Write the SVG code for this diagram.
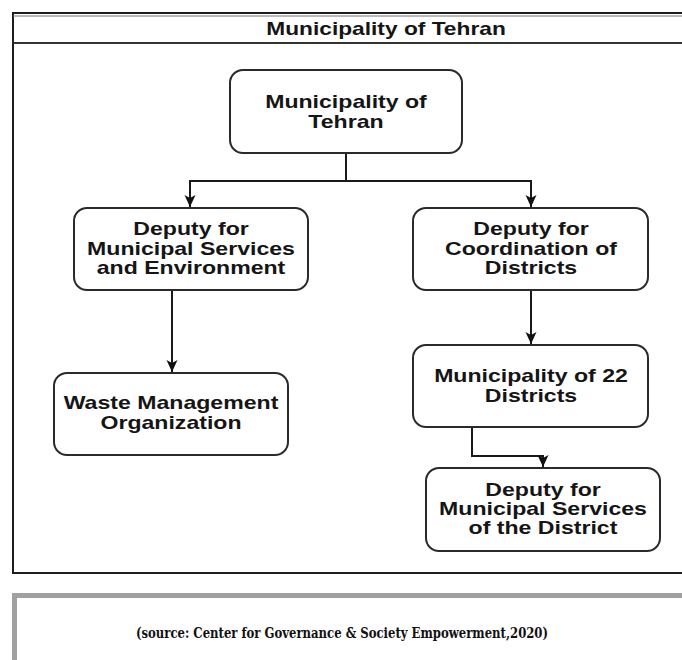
<svg xmlns="http://www.w3.org/2000/svg" width="682" height="660" viewBox="0 0 682 660">
  <defs>
    <style>
      .node rect { fill: #ffffff; stroke: #2a2a2a; stroke-width: 2; }
      .lbl { font-family: "Liberation Sans", Arial, sans-serif; font-weight: bold; font-size: 17.5px; fill: #151515; text-anchor: middle; }
      .conn path { fill: none; stroke: #1a1a1a; stroke-width: 2; }
      .cap { font-family: "DejaVu Serif Condensed", "DejaVu Serif", serif; font-weight: bold; font-size: 14.5px; fill: #111; }
    </style>
    <marker id="arr" viewBox="0 0 12 12" refX="12" refY="6" markerWidth="12" markerHeight="12" markerUnits="userSpaceOnUse" orient="auto">
      <path d="M0,0.5 L12,6 L0,11.5 L3,6 Z" fill="#111"/>
    </marker>
  </defs>
  <rect width="682" height="660" fill="#ffffff"/>

  <!-- outer frame -->
  <g id="frame">
    <rect x="13" y="13" width="700" height="560" fill="none" stroke="#1e1e1e" stroke-width="2"/>
    <line x1="13" y1="16" x2="682" y2="16" stroke="#777" stroke-width="1"/>
    <line x1="13" y1="43" x2="682" y2="43" stroke="#333" stroke-width="2"/>
    <text class="lbl" transform="translate(386,35) scale(1.3,1)" font-size="16.5">Municipality of Tehran</text>
  </g>

  <g class="conn" id="connectors">
    <path d="M346,153 V181 H190 V207" marker-end="url(#arr)"/>
    <path d="M346,181 H531 V207" marker-end="url(#arr)"/>
    <path d="M172,290 V372" marker-end="url(#arr)"/>
    <path d="M531,290 V344" marker-end="url(#arr)"/>
    <path d="M472,427 V456 H543 V467" marker-end="url(#arr)"/>
  </g>

  <g class="node" id="n_tehran">
    <rect x="230" y="70" width="232" height="83" rx="13"/>
    <text class="lbl" transform="translate(346,108) scale(1.32,1)">Municipality of</text>
    <text class="lbl" transform="translate(346,128) scale(1.32,1)">Tehran</text>
  </g>

  <g class="node" id="n_dep_services">
    <rect x="74" y="208" width="234" height="82" rx="13"/>
    <text class="lbl" transform="translate(191,235) scale(1.32,1)">Deputy for</text>
    <text class="lbl" transform="translate(191,255) scale(1.32,1)">Municipal Services</text>
    <text class="lbl" transform="translate(191,274) scale(1.32,1)">and Environment</text>
  </g>

  <g class="node" id="n_dep_coord">
    <rect x="413" y="208" width="235" height="82" rx="13"/>
    <text class="lbl" transform="translate(531,235) scale(1.32,1)">Deputy for</text>
    <text class="lbl" transform="translate(531,255) scale(1.32,1)">Coordination of</text>
    <text class="lbl" transform="translate(531,274) scale(1.32,1)">Districts</text>
  </g>

  <g class="node" id="n_waste">
    <rect x="54" y="373" width="234" height="82" rx="13"/>
    <text class="lbl" transform="translate(171,409) scale(1.32,1)">Waste Management</text>
    <text class="lbl" transform="translate(171,429) scale(1.32,1)">Organization</text>
  </g>

  <g class="node" id="n_22">
    <rect x="413" y="345" width="235" height="82" rx="13"/>
    <text class="lbl" transform="translate(531,382) scale(1.32,1)">Municipality of 22</text>
    <text class="lbl" transform="translate(531,402) scale(1.32,1)">Districts</text>
  </g>

  <g class="node" id="n_district">
    <rect x="426" y="468" width="234" height="83" rx="13"/>
    <text class="lbl" transform="translate(543,496) scale(1.32,1)">Deputy for</text>
    <text class="lbl" transform="translate(543,515) scale(1.32,1)">Municipal Services</text>
    <text class="lbl" transform="translate(543,534) scale(1.32,1)">of the District</text>
  </g>

  <g id="caption">
    <rect x="14.5" y="595.5" width="720" height="120" fill="none" stroke="#a0a0a0" stroke-width="5"/>
    <text class="cap" x="136" y="638" textLength="412" lengthAdjust="spacingAndGlyphs">(source: Center for Governance &amp; Society Empowerment,2020)</text>
  </g>
</svg>
